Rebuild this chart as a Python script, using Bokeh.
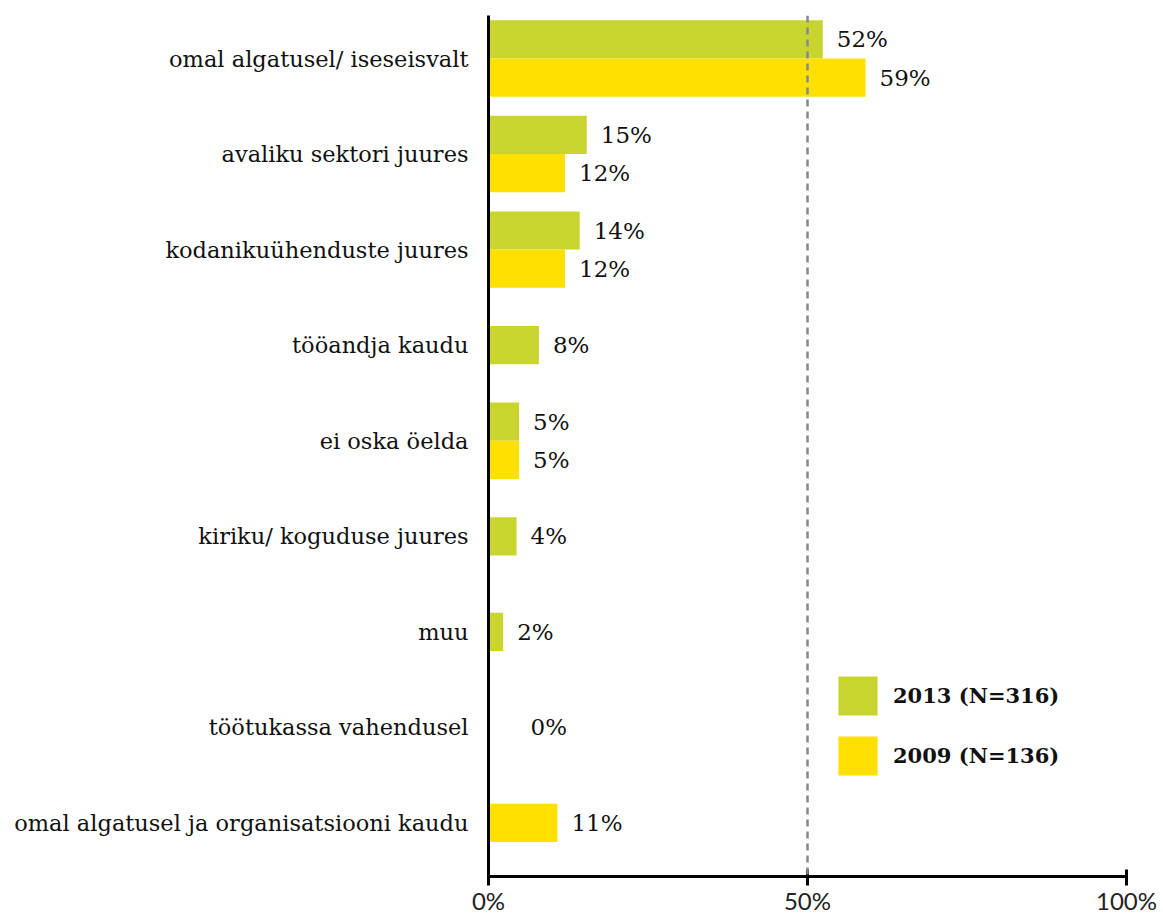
from bokeh.plotting import figure
from bokeh.models import (ColumnDataSource, Range1d, FixedTicker, Span, Legend, LegendItem)
from bokeh.core.properties import value
from bokeh.embed import file_html
from bokeh.resources import INLINE

categories = [
    "omal algatusel/ iseseisvalt",
    "avaliku sektori juures",
    "kodanikuühenduste juures",
    "tööandja kaudu",
    "ei oska öelda",
    "kiriku/ koguduse juures",
    "muu",
    "töötukassa vahendusel",
    "omal algatusel ja organisatsiooni kaudu",
]
values_2013 = [52.4, 15.4, 14.3, 7.9, 4.8, 4.4, 2.3, 0.0, None]
values_2009 = [59.1, 12.0, 12.0, None, 4.8, None, None, None, 10.8]
series_names = ["2013 (N=316)", "2009 (N=136)"]
x_ticks = [0, 50, 100]
x_tick_labels = ["0%", "50%", "100%"]

GREEN = "#C9D52F"
YELLOW = "#FFE000"
BAR_H = 0.4


def build(vals, other, sign):
    ys, xs, labels, offs = [], [], [], []
    for i, (v, o) in enumerate(zip(vals, other)):
        if v is None:
            continue
        y = i + sign * BAR_H / 2 if o is not None else i
        ys.append(y)
        xs.append(v)
        labels.append(f"{round(v)}%")
        offs.append(14 if v > 0 else 42)
    return ColumnDataSource(dict(y=ys, x=xs, label=labels, off=offs))


src13 = build(values_2013, values_2009, -1)
src09 = build(values_2009, values_2013, +1)

p = figure(width=1163, height=924, output_backend="svg", toolbar_location=None,
           x_range=Range1d(0, 100), y_range=Range1d(8.56, -0.45),
           min_border_left=488, min_border_right=37, min_border_top=15, min_border_bottom=48)
p.outline_line_color = None
p.xgrid.visible = False
p.ygrid.visible = False
p.background_fill_color = "white"

r13 = p.hbar(y="y", right="x", left=0, height=BAR_H, source=src13, fill_color=GREEN, line_color=None)
r09 = p.hbar(y="y", right="x", left=0, height=BAR_H, source=src09, fill_color=YELLOW, line_color=None)

for src in (src13, src09):
    p.text(x="x", y="y", text="label", source=src, x_offset="off", text_baseline="middle",
           text_align="left", text_font=value("DejaVu Serif"), text_font_size="23px", text_color="#111111")

p.add_layout(Span(location=50, dimension="height", line_color="#888888", line_width=2.5, line_dash="7 5"))

# axes
ya = p.yaxis[0]
ya.ticker = FixedTicker(ticks=list(range(len(categories))))
ya.major_label_overrides = {i: c for i, c in enumerate(categories)}
ya.axis_line_width = 3
ya.axis_line_color = "black"
ya.major_tick_line_color = None
ya.major_tick_out = 0
ya.major_tick_in = 0
ya.minor_tick_line_color = None
ya.major_label_standoff = 20
ya.major_label_text_font = "DejaVu Serif"
ya.major_label_text_font_size = "22.5px"
ya.major_label_text_color = "#111111"

xa = p.xaxis[0]
xa.ticker = FixedTicker(ticks=x_ticks)
xa.major_label_overrides = {t: l for t, l in zip(x_ticks, x_tick_labels)}
xa.axis_line_width = 3
xa.axis_line_color = "black"
xa.major_tick_line_width = 3
xa.major_tick_line_color = "black"
xa.major_tick_in = 7
xa.major_tick_out = 9
xa.minor_tick_line_color = None
xa.major_label_standoff = 0
xa.major_label_text_font = "Lato"
xa.major_label_text_font_size = "24px"
xa.major_label_text_color = "#222222"

legend = Legend(items=[LegendItem(label=series_names[0], renderers=[r13]),
                       LegendItem(label=series_names[1], renderers=[r09])],
                location=(345, 96), orientation="vertical",
                glyph_width=49, glyph_height=49, spacing=11, label_standoff=11,
                padding=0, margin=0, border_line_alpha=0, background_fill_alpha=0,
                label_text_font="DejaVu Serif", label_text_font_style="bold",
                label_text_font_size="21px", label_text_color="#111111",
                label_text_baseline="middle")
p.add_layout(legend, "center")

open("out.html", "w").write(file_html(p, INLINE))
